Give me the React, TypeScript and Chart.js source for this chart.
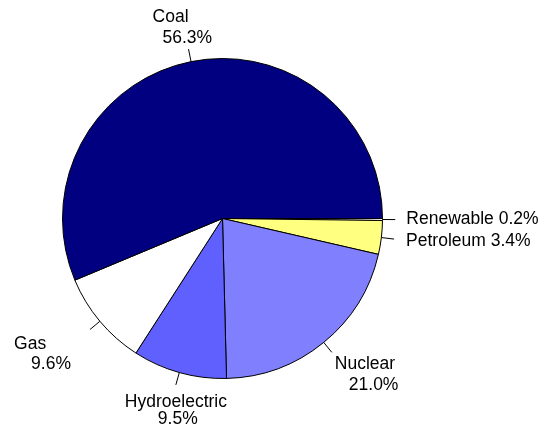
import React, { useEffect, useRef } from "react";
import { Chart, registerables } from "chart.js";

Chart.register(...registerables);

const categories = ["Coal", "Gas", "Hydroelectric", "Nuclear", "Petroleum", "Renewable"];
const shares = [56.3, 9.6, 9.5, 21.0, 3.4, 0.2];
const sliceColors = ["#000080", "#ffffff", "#6060ff", "#8080ff", "#ffff80", "#ffffff"];
const oneLineLabels = ["Petroleum", "Renewable"];

// per-category placement of label lines relative to the end of the leader tick
const labelLayout: Record<string, [number, number][]> = {
  Coal: [[-36, -27], [-26, -6]],
  Gas: [[-76, 20], [-59, 40]],
  Hydroelectric: [[-51, 22], [-18, 39]],
  Nuclear: [[3, 17], [17, 38]],
  Petroleum: [[12, 7]],
  Renewable: [[11, 4]],
};

const labelPlugin = {
  id: "pieLabels",
  afterDraw(chart: any) {
    const ctx = chart.ctx;
    const meta = chart.getDatasetMeta(0);
    const labels: string[] = chart.data.labels;
    const values: number[] = chart.data.datasets[0].data;
    ctx.save();
    ctx.font = '17.5px "Liberation Sans", Arial, sans-serif';
    ctx.fillStyle = "#000000";
    ctx.strokeStyle = "#000000";
    ctx.lineWidth = 1;
    ctx.textAlign = "left";
    ctx.textBaseline = "alphabetic";
    meta.data.forEach((arc: any, i: number) => {
      const { x, y, startAngle, endAngle, outerRadius } = arc.getProps(
        ["x", "y", "startAngle", "endAngle", "outerRadius"],
        true
      );
      const mid = (startAngle + endAngle) / 2;
      const c = Math.cos(mid);
      const s = Math.sin(mid);
      const r1 = outerRadius;
      const r2 = outerRadius * 1.08;
      const ex = x + c * r2;
      const ey = y + s * r2;
      ctx.beginPath();
      ctx.moveTo(x + c * r1, y + s * r1);
      ctx.lineTo(ex, ey);
      ctx.stroke();
      const name = labels[i];
      const pct = values[i].toFixed(1) + "%";
      const lines = oneLineLabels.includes(name) ? [name + " " + pct] : [name, pct];
      const offs = labelLayout[name];
      lines.forEach((t, k) => {
        ctx.fillText(t, ex + offs[k][0], ey + offs[k][1]);
      });
    });
    ctx.restore();
  },
};

export default function App() {
  const ref = useRef<HTMLCanvasElement | null>(null);
  useEffect(() => {
    if (!ref.current) return;
    const order = categories.map((_, i) => i).reverse();
    const chart = new Chart(ref.current, {
      type: "pie",
      data: {
        labels: order.map((i) => categories[i]),
        datasets: [
          {
            data: order.map((i) => shares[i]),
            backgroundColor: order.map((i) => sliceColors[i]),
            borderColor: "#000000",
            borderWidth: 1,
          },
        ],
      },
      options: {
        animation: false,
        responsive: false,
        rotation: 90,
        layout: { padding: { left: 62, right: 169, top: 58, bottom: 46 } },
        plugins: { legend: { display: false }, tooltip: { enabled: false } },
      },
      plugins: [labelPlugin],
    });
    return () => chart.destroy();
  }, []);
  return (
    <div style={{ position: "fixed", left: 0, top: 0, width: 552, height: 425, background: "#ffffff" }}>
      <canvas ref={ref} width={552} height={425} style={{ width: 552, height: 425 }} />
    </div>
  );
}
